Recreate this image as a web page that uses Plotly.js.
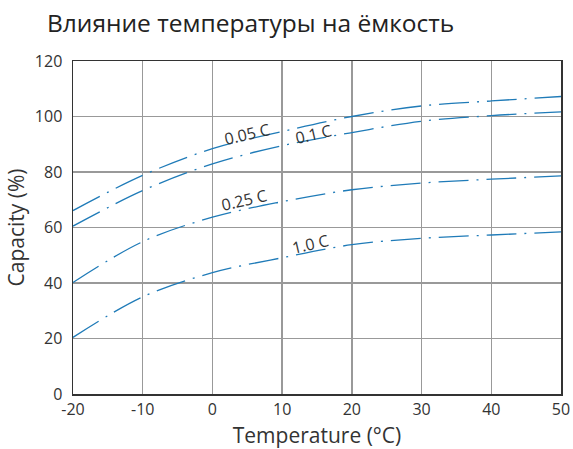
<!DOCTYPE html>
<html>
<head>
<meta charset="utf-8">
<script src="https://cdn.plot.ly/plotly-3.0.1.min.js"></script>
<style>html,body{margin:0;padding:0;background:#fff;}#chart{width:573px;height:449px;}</style>
</head>
<body>
<div id="chart"></div>
<script>
var temperature = [-20, -10, 0, 10, 20, 30, 40, 50];
var cap005 = [66.1, 78.8, 88.4, 94.6, 100.0, 103.8, 105.6, 107.2];
var cap01  = [60.5, 73.3, 82.9, 89.5, 94.2, 98.3, 100.3, 101.7];
var cap025 = [40.2, 54.9, 63.7, 69.3, 73.6, 76.0, 77.4, 78.6];
var cap10  = [20.4, 35.0, 43.7, 49.1, 53.8, 56.1, 57.3, 58.4];
var seriesNames = ['0.05 C', '0.1 C', '0.25 C', '1.0 C'];
var labelX = [5.0, 14.5, 4.5, 14.0];
var labelY = [93.8, 93.8, 70.0, 54.0];
var xTicks = [-20, -10, 0, 10, 20, 30, 40, 50];
var xTickText = ['-20', '-10', '0', '10', '20', '30', '40', '50'];
var yTicks = [0, 20, 40, 60, 80, 100, 120];

var FONT = '"Open Sans", sans-serif';
var lineColor = '#1f7bb8';
var dashPat = '30px,8px,2px,8px';
var allSeries = [cap005, cap01, cap025, cap10];
var traces = allSeries.map(function (ys, i) {
  return {
    x: temperature, y: ys, name: seriesNames[i], mode: 'lines', type: 'scatter',
    line: {color: lineColor, width: 1.3, dash: dashPat, shape: 'spline', smoothing: 1},
    hoverinfo: 'skip'
  };
});
var annotations = seriesNames.map(function (n, i) {
  return {x: labelX[i], y: labelY[i], xref: 'x', yref: 'y', text: n, showarrow: false,
          textangle: -13, font: {family: FONT, size: 16, color: '#333'}};
});
var layout = {
  width: 573, height: 449,
  margin: {l: 73, r: 12, t: 61, b: 55},
  paper_bgcolor: '#fff', plot_bgcolor: '#fff',
  showlegend: false,
  title: {text: 'Влияние температуры на ёмкость', x: 47/573, xanchor: 'left', y: 0.948, yanchor: 'middle',
          font: {family: FONT, size: 24.5, color: '#222'}},
  font: {family: FONT, size: 16, color: '#333'},
  xaxis: {range: [-20, 50], tickvals: xTicks, ticktext: xTickText,
          showgrid: true, gridcolor: '#999', gridwidth: 1.3, zeroline: false,
          showline: true, linecolor: '#333', linewidth: 1.5, mirror: true, ticks: '',
          ticklabelstandoff: 0,
          title: {text: 'Temperature (°C)', font: {family: FONT, size: 21, color: '#333'}, standoff: 11}},
  yaxis: {range: [0, 120], tickvals: yTicks,
          showgrid: true, gridcolor: '#999', gridwidth: 1.3, zeroline: false,
          showline: true, linecolor: '#333', linewidth: 1.5, mirror: true, ticks: '',
          ticklabelstandoff: 6,
          title: {text: 'Capacity (%)', font: {family: FONT, size: 21, color: '#333'}, standoff: 4}},
  annotations: annotations
};
Plotly.newPlot('chart', traces, layout, {displayModeBar: false, staticPlot: true});
</script>
</body>
</html>
